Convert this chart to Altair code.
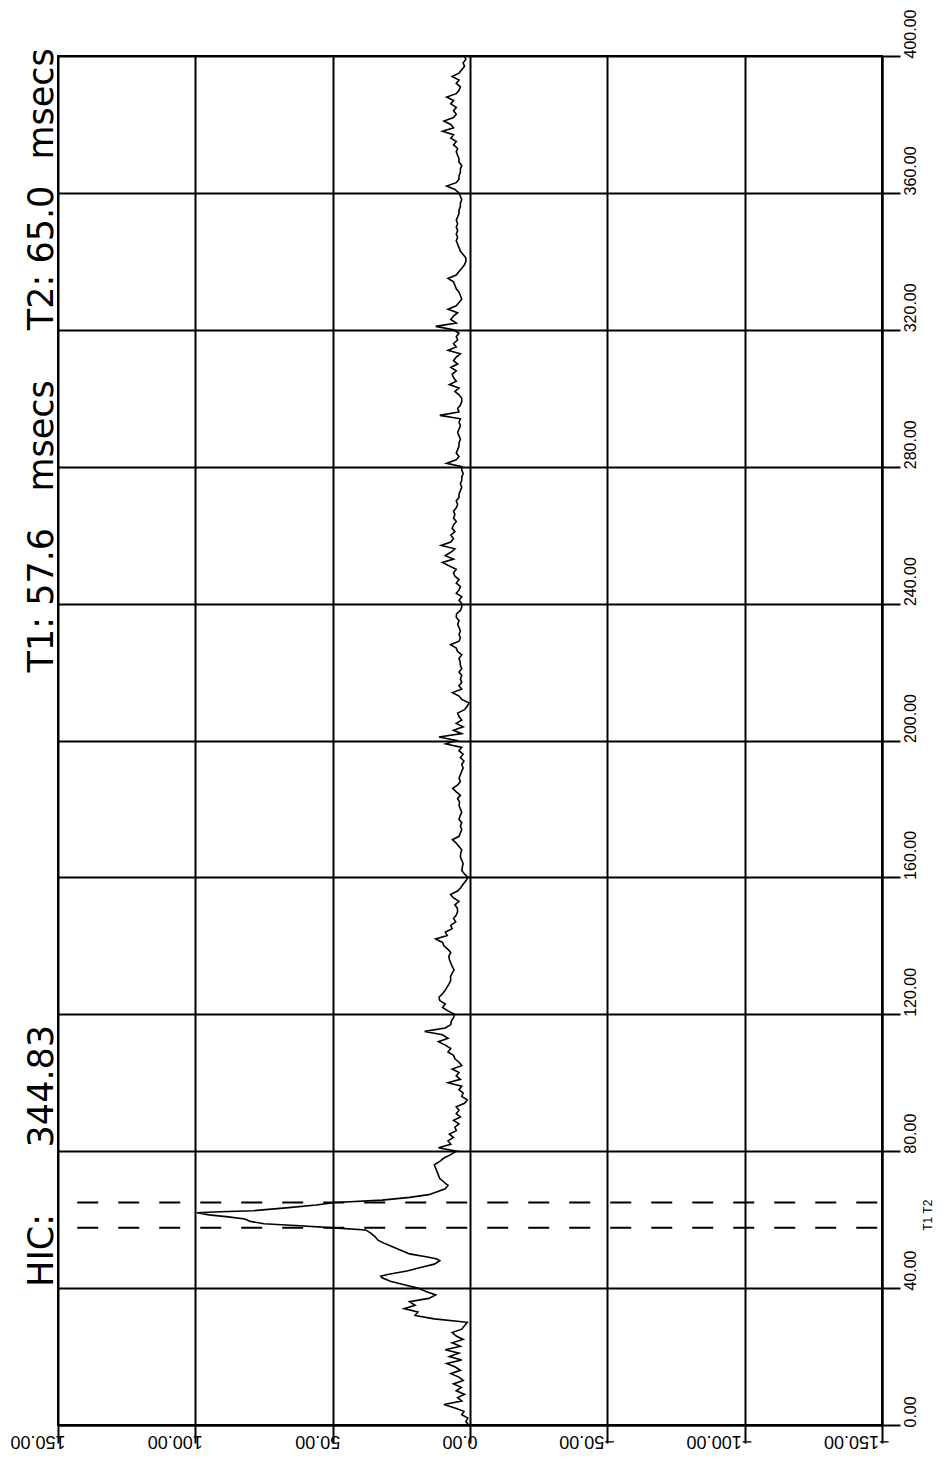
import altair as alt
import pandas as pd

# ---- trace data (time in ms, acceleration in g) ----
T_EARLY = list(range(0, 43))
A_EARLY = [0.5, 1.5, 0.8, 3.0, 2.2, 5.5, 9.5, 3.0, 4.5, 2.0,
           5.0, 3.2, 6.0, 2.5, 4.0, 7.0, 3.5, 5.5, 8.5, 3.0,
           7.5, 4.0, 9.0, 3.5, 6.5, 2.5, 5.0, 6.5, 3.0, 2.0,
           1.0, 13, 20, 19, 24, 20, 22, 15, 12.5, 16,
           19, 24, 29]

T_PULSE = [43, 43.5, 44, 45, 46, 47, 48, 48.5, 49, 50, 51, 52, 53, 54, 55, 56, 57,
           57.6, 58.2, 58.8, 59.5, 60.2, 60.8, 61.4, 62.0, 62.3, 62.6, 63.5, 64.3,
           65.0, 65.7, 66.5, 67.3, 68.2, 69, 70, 71, 72, 73, 74, 75, 76, 77, 78, 79]
A_PULSE = [32, 32.5, 30, 23, 18, 13, 11, 12, 15, 22, 25, 28, 31, 33.5, 34.5, 36, 38,
           49.5, 62, 75, 80, 82, 88, 95, 99.5, 91, 79, 66, 56,
           49, 32, 22, 15, 11.7, 9, 8, 9.5, 11, 11.5, 12, 12.5, 13, 11, 9.5, 7]

T_LATE = list(range(80, 401))
A_LATE = [5, 11.5, 7, 8, 6, 7.5, 5, 5.5, 4, 6,
          3.5, 5, 4, 5, 2, 1, 3, 2.5, 4, 3,
          8, 3.5, 5, 4, 6.5, 3, 4, 5.5, 6, 8,
          7, 9, 11.5, 8, 10, 16.5, 9, 7, 6.8, 6,
          5.6, 8, 10, 9, 11, 11.3, 10, 9, 8.3, 7.5,
          7, 7.1, 6.5, 5.8, 6.5, 7, 7.5, 7.7, 7, 8,
          9.5, 10, 12.5, 8.3, 9, 6.5, 7, 5.2, 6, 5,
          4.5, 4.6, 5.5, 4, 6, 7.1, 4.5, 3.4, 2.5, 1.5,
          0.7, 2, 3, 2.8, 2.5, 3, 3.5, 3.4, 3, 4,
          5, 6.4, 4, 3.5, 3, 3.5, 3, 4, 3.6, 3,
          3.5, 4, 3.8, 4.5, 3.5, 5, 6.3, 4.5, 3.5, 4,
          3.5, 3, 2.5, 3, 2.2, 3.5, 2.5, 4, 3, 8.8,
          5, 11.3, 3, 6, 2.5, 5, 3, 4, 4.5, 2,
          1, 0.4, 3, 4, 6.4, 3, 4, 3, 3.5, 3,
          4, 3, 3.5, 3.6, 4, 3, 4.5, 5, 7.1, 4,
          3.5, 4, 3.5, 4, 4.5, 4, 5, 4.9, 3.5, 3,
          3, 4, 3, 5, 4, 3.5, 5, 4, 5.5, 6,
          5, 7.5, 10, 6, 9, 7, 5.5, 10.5, 7, 6,
          7, 5.5, 6.5, 6, 5, 6, 5.5, 6, 5, 4.5,
          5, 4, 4, 3.5, 3, 3.5, 3, 3, 2.5, 3,
          3, 8.5, 5, 4, 5, 4.5, 4, 4, 3.5, 4,
          4.5, 4, 3.5, 4, 3.5, 11, 4, 4.5, 3.5, 3,
          3, 4, 5.5, 4, 7.5, 5, 6, 6.5, 5, 7,
          4.5, 6, 5, 3.5, 8, 5, 6, 4.5, 5, 4,
          6, 12.5, 5, 7, 6, 4.5, 8, 5, 4, 3,
          3.5, 4, 5, 5.5, 6, 8, 5, 4, 3, 2,
          1.5, 1.5, 2.5, 3.5, 4, 4.5, 5, 4.5, 5, 4.5,
          5, 4.5, 5, 4.5, 4, 4, 3.5, 3.5, 3, 3.5,
          4, 5.5, 8.5, 5, 4, 4, 3.5, 3.5, 3, 4,
          4, 4.5, 5, 4.5, 6, 5, 7, 6, 10, 6,
          7, 9.5, 6, 5, 6, 5, 7, 6, 8.5, 5,
          4, 3.5, 5, 4, 6.5, 4, 3, 2, 2.5, 1.5,
          2]

TIME = T_EARLY + T_PULSE + T_LATE
ACCEL = A_EARLY + A_PULSE + A_LATE

# ---- annotations ----
T_MARKS = [57.6, 65.0]
DASH_FROM = 143
DASH_TO = -150
TITLE_TEXT = ["HIC:", "344.83", "T1: 57.6", "msecs", "T2: 65.0", "msecs"]
TITLE_T = [51, 99, 241, 289, 341, 386]
ACC_TICKS = [-150, -100, -50, 0, 50, 100, 150]
TIME_TICKS = [0, 40, 80, 120, 160, 200, 240, 280, 320, 360, 400]

W, H = 824, 1369

trace = pd.DataFrame({"t": TIME, "a": ACCEL})
dashes = pd.DataFrame({"t": T_MARKS, "a": [DASH_FROM] * 2, "a2": [DASH_TO] * 2})
titles = pd.DataFrame({"t": TITLE_T, "label": TITLE_TEXT})
tt = pd.DataFrame({"t": [sum(T_MARKS) / 2], "label": ["T1 T2"]})

xscale = alt.Scale(domain=[-150, 150], reverse=True, nice=False, zero=False)
yscale = alt.Scale(domain=[0, 400], nice=False, zero=False)

xaxis = alt.Axis(values=ACC_TICKS, format=".2f", title="", labelAngle=180,
                 labelAlign="left", labelBaseline="middle", labelOffset=7,
                 tickSize=18, labelPadding=-3, labelOverlap=False,
                 labelFlush=False, grid=True, labelFontSize=18)
yaxis = alt.Axis(values=TIME_TICKS, format=".2f", title="", orient="right",
                 labelAngle=270, labelAlign="left", labelBaseline="middle",
                 tickSize=18, labelPadding=10, labelOverlap=False, labelOffset=2,
                 labelFlush=False, grid=True, labelFontSize=16)

line = alt.Chart(trace).mark_line(color="black", strokeWidth=1.6).encode(
    x=alt.X("a:Q", scale=xscale, axis=xaxis),
    y=alt.Y("t:Q", scale=yscale, axis=yaxis),
    order="t:Q",
)

dash = alt.Chart(dashes).mark_rule(color="black", strokeWidth=2, strokeDash=[21, 20]).encode(
    y=alt.Y("t:Q", scale=yscale, axis=yaxis),
    x=alt.X("a:Q", scale=xscale, axis=xaxis),
    x2="a2:Q",
)

title_text = alt.Chart(titles).mark_text(
    angle=270, fontSize=35, font="DejaVu Sans", align="center",
    baseline="alphabetic", color="black",
).encode(
    y=alt.Y("t:Q", scale=yscale, axis=yaxis),
    x=alt.value(-5),
    text="label:N",
)

t12 = alt.Chart(tt).mark_text(
    angle=270, fontSize=12, font="Liberation Sans", align="center",
    baseline="middle", color="black",
).encode(
    y=alt.Y("t:Q", scale=yscale, axis=yaxis),
    x=alt.value(W + 46),
    text="label:N",
)

chart = alt.layer(line, dash, title_text, t12).properties(
    width=W, height=H,
    autosize=alt.AutoSizeParams(type="none"),
    padding={"left": 50, "top": 48, "right": 58, "bottom": 40},
).configure_axis(
    gridColor="black", gridOpacity=1, gridWidth=2,
    domainColor="black", domainWidth=2,
    tickColor="black", tickWidth=2,
    labelColor="black", labelFont="Liberation Sans",
).configure_view(stroke="black", strokeWidth=2)

chart.save("out.html", embed_options={"renderer": "svg", "actions": False})
